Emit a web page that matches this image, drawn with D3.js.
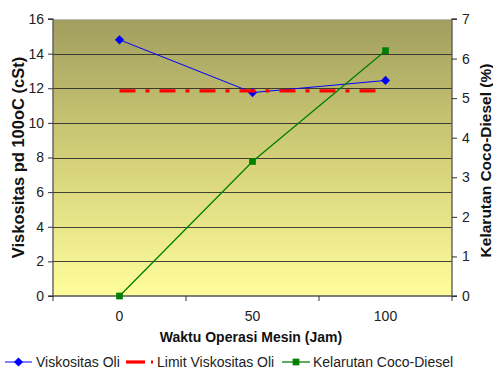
<!DOCTYPE html>
<html>
<head>
<meta charset="utf-8">
<script src="https://cdn.jsdelivr.net/npm/d3@7"></script>
<style>
  html, body { margin: 0; padding: 0; background: #fff; }
  svg { display: block; font-family: "Liberation Sans", Arial, sans-serif; }
</style>
</head>
<body>
<svg id="chart" width="493" height="374"></svg>
<script>
// Operating hours (category axis)
const categories = ["0", "50", "100"];
// Oil viscosity at 100 °C (cSt), left axis
const viskositasOli = [14.8, 11.75, 12.45];
// Viscosity limit (cSt), left axis
const limitViskositas = [11.85, 11.85, 11.85];
// Coco-diesel dilution (%), right axis
const kelarutan = [0, 3.4, 6.2];

const leftTicks = [0, 2, 4, 6, 8, 10, 12, 14, 16];
const rightTicks = [0, 1, 2, 3, 4, 5, 6, 7];

const svg = d3.select("#chart");
const plot = { left: 53, right: 452, top: 19, bottom: 296 };

const x = d3.scaleBand().domain(categories).range([plot.left, plot.right]);
const xc = d => x(d) + x.bandwidth() / 2;
const yL = d3.scaleLinear().domain([0, 16]).range([plot.bottom, plot.top]);
const yR = d3.scaleLinear().domain([0, 7]).range([plot.bottom, plot.top]);

// Plot area background gradient
const defs = svg.append("defs");
const grad = defs.append("linearGradient").attr("id", "bg")
  .attr("x1", 0).attr("y1", 0).attr("x2", 0).attr("y2", 1);
grad.append("stop").attr("offset", "0%").attr("stop-color", "#a19e5f");
grad.append("stop").attr("offset", "50%").attr("stop-color", "#d3d079");
grad.append("stop").attr("offset", "100%").attr("stop-color", "#fffd9b");

svg.append("rect")
  .attr("x", plot.left).attr("y", plot.top)
  .attr("width", plot.right - plot.left).attr("height", plot.bottom - plot.top)
  .attr("fill", "url(#bg)");

// Horizontal gridlines
svg.append("g").selectAll("line").data(leftTicks.filter(d => d > 0 && d < 16)).join("line")
  .attr("x1", plot.left).attr("x2", plot.right)
  .attr("y1", d => Math.round(yL(d)) + 0.5).attr("y2", d => Math.round(yL(d)) + 0.5)
  .attr("stroke", "#262626").attr("stroke-width", 1.1).attr("stroke-opacity", 0.85);

// Top border
svg.append("line")
  .attr("x1", plot.left).attr("x2", plot.right)
  .attr("y1", plot.top + 0.5).attr("y2", plot.top + 0.5)
  .attr("stroke", "#b8b8b8");

// Left axis
const gL = svg.append("g").attr("transform", `translate(${plot.left},0)`)
  .call(d3.axisLeft(yL).tickValues(leftTicks).tickSize(5).tickPadding(4));
// Right axis
const gR = svg.append("g").attr("transform", `translate(${plot.right},0)`)
  .call(d3.axisRight(yR).tickValues(rightTicks).tickFormat(d3.format("d")).tickSize(5).tickPadding(5));
// Bottom axis: ticks at category boundaries
const gB = svg.append("g").attr("transform", `translate(0,${plot.bottom})`)
  .call(d3.axisBottom(x).tickSize(0).tickPadding(15));

[gL, gR, gB].forEach(g => {
  g.select(".domain").attr("stroke", "#555").attr("stroke-width", 1.3);
  g.selectAll(".tick line").attr("stroke", "#333");
  g.selectAll("text").attr("font-size", 14).attr("fill", "#222")
    .attr("font-family", "Liberation Sans, Arial, sans-serif");
});
gL.select(".domain").attr("d", `M-5,${plot.top}H0V${plot.bottom}H-5`);
gR.select(".domain").attr("d", `M5,${plot.top}H0V${plot.bottom}H5`);
gB.select(".domain").attr("d", `M${plot.left},0H${plot.right}`);

// Category boundary tick marks on the x axis
const bounds = categories.map(c => x(c)).concat([plot.right]);
gB.selectAll(".bound").data(bounds).join("line")
  .attr("class", "bound")
  .attr("x1", d => d).attr("x2", d => d)
  .attr("y1", 0).attr("y2", 5)
  .attr("stroke", "#333");

// Axis titles
svg.append("text")
  .attr("transform", `translate(24,${(plot.top + plot.bottom) / 2}) rotate(-90)`)
  .attr("text-anchor", "middle").attr("font-size", 16.5).attr("font-weight", "bold")
  .attr("fill", "#111")
  .text("Viskositas pd 100oC (cSt)");
svg.append("text")
  .attr("transform", `translate(491,${(plot.top + plot.bottom) / 2 + 3}) rotate(-90)`)
  .attr("text-anchor", "middle").attr("font-size", 15.5).attr("font-weight", "bold")
  .attr("fill", "#111")
  .text("Kelarutan Coco-Diesel (%)");
svg.append("text")
  .attr("x", 251).attr("y", 342)
  .attr("text-anchor", "middle").attr("font-size", 14).attr("font-weight", "bold")
  .attr("fill", "#111")
  .text("Waktu Operasi Mesin (Jam)");

// Series
const lineL = d3.line().x((d, i) => xc(categories[i])).y(d => yL(d));
const lineR = d3.line().x((d, i) => xc(categories[i])).y(d => yR(d));
const diamond = "M0,-4.6L4.6,0L0,4.6L-4.6,0Z";
const square = d3.symbol().type(d3.symbolSquare).size(45);

// Viskositas Oli
svg.append("path").datum(viskositasOli)
  .attr("d", lineL).attr("fill", "none").attr("stroke", "#0000ff").attr("stroke-width", 1);
svg.append("g").selectAll("path").data(viskositasOli).join("path")
  .attr("transform", (d, i) => `translate(${xc(categories[i])},${yL(d)})`)
  .attr("d", diamond).attr("fill", "#0000ff");

// Limit Viskositas Oli
svg.append("path").datum(limitViskositas)
  .attr("d", lineL).attr("fill", "none").attr("stroke", "#ff0000")
  .attr("stroke-width", 3.2).attr("stroke-dasharray", "16,10,4,10");

// Kelarutan Coco-Diesel
svg.append("path").datum(kelarutan)
  .attr("d", lineR).attr("fill", "none").attr("stroke", "#008000").attr("stroke-width", 1.3);
svg.append("g").selectAll("path").data(kelarutan).join("path")
  .attr("transform", (d, i) => `translate(${xc(categories[i])},${yR(d)})`)
  .attr("d", square).attr("fill", "#008000");

// Legend
const legend = svg.append("g").attr("font-size", 14).attr("fill", "#222");
const ly = 362;
// Viskositas Oli
legend.append("line").attr("x1", 5).attr("x2", 32).attr("y1", ly).attr("y2", ly)
  .attr("stroke", "#0000ff").attr("stroke-width", 1);
legend.append("path").attr("transform", `translate(18.5,${ly})`).attr("d", diamond).attr("fill", "#0000ff");
legend.append("text").attr("x", 36).attr("y", ly + 5).text("Viskositas Oli");
// Limit Viskositas Oli
legend.append("line").attr("x1", 126).attr("x2", 145).attr("y1", ly).attr("y2", ly)
  .attr("stroke", "#ff0000").attr("stroke-width", 3.2);
legend.append("line").attr("x1", 151).attr("x2", 153).attr("y1", ly).attr("y2", ly)
  .attr("stroke", "#ff0000").attr("stroke-width", 3.2);
legend.append("text").attr("x", 157).attr("y", ly + 5).text("Limit Viskositas Oli");
// Kelarutan Coco-Diesel
legend.append("line").attr("x1", 282).attr("x2", 310).attr("y1", ly).attr("y2", ly)
  .attr("stroke", "#008000").attr("stroke-width", 1.3);
legend.append("path").attr("transform", `translate(296,${ly})`).attr("d", square).attr("fill", "#008000");
legend.append("text").attr("x", 313).attr("y", ly + 5).text("Kelarutan Coco-Diesel");
</script>
</body>
</html>
